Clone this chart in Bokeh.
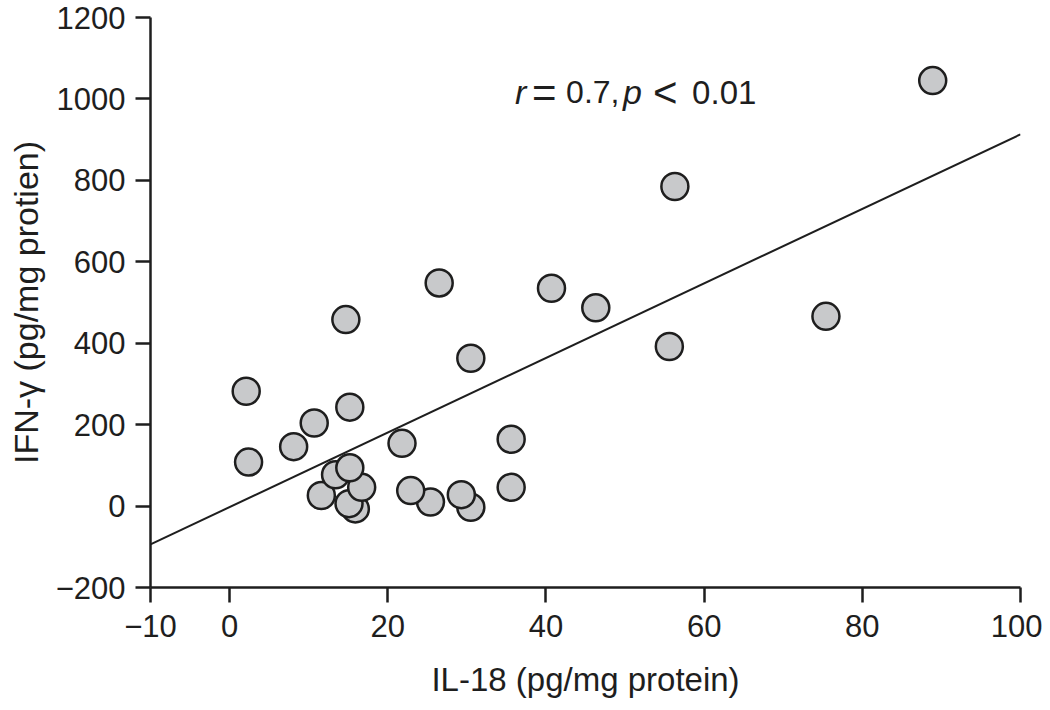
from bokeh.plotting import figure
from bokeh.models import Range1d, FixedTicker, Label
from bokeh.embed import file_html
from bokeh.resources import INLINE

# ---- data ----
il18 = [2.1, 2.4, 8.1, 10.7, 14.7, 15.2, 11.6, 13.4, 15.9, 15.1, 16.7, 15.2,
        21.8, 25.4, 22.9, 30.5, 29.3, 26.5, 30.5, 35.6, 35.6, 40.7, 46.3,
        55.6, 56.3, 75.4, 88.9]
ifng = [282, 108, 146, 204, 458, 243, 26, 77, -7, 6, 46, 94,
        154, 10, 38, -3, 28, 548, 363, 164, 46, 535, 487,
        392, 785, 466, 1045]

fit_x = [-10, 100]
fit_y = [-94, 913]

x_ticks = [-10, 0, 20, 40, 60, 80, 100]
x_tick_labels = ["\u221210", "0", "20", "40", "60", "80", "100"]
y_ticks = [-200, 0, 200, 400, 600, 800, 1000, 1200]
y_tick_labels = ["\u2212200", "0", "200", "400", "600", "800", "1000", "1200"]

x_label = "IL-18 (pg/mg protein)"
y_label = "IFN-\u03b3 (pg/mg protien)"

stat_pieces = ["r", "=", "0.7,", "p", "<", "0.01"]
stat_italic = [True, False, False, True, False, False]
stat_sizes = ["34px", "42px", "32px", "34px", "42px", "33px"]
stat_offsets = [0, 17, 51, 108, 138, 177]
stat_anchor_x = 36.1
stat_anchor_y = 1017

FONT = "Liberation Sans"
INK = "#1e1e1e"
FILL = "#c8c9cb"

p = figure(width=1042, height=702,
           x_range=Range1d(-10, 100), y_range=Range1d(-200, 1200),
           output_backend="svg", toolbar_location=None,
           min_border_left=150, min_border_right=22,
           min_border_top=17, min_border_bottom=115)
p.grid.visible = False
p.outline_line_color = None
p.background_fill_color = "white"
p.border_fill_color = "white"

p.line(fit_x, fit_y, line_color=INK, line_width=2)
p.scatter(il18, ifng, size=27, fill_color=FILL, line_color=INK, line_width=2.5)

for ax, ticks, labels in ((p.xaxis[0], x_ticks, x_tick_labels),
                          (p.yaxis[0], y_ticks, y_tick_labels)):
    ax.ticker = FixedTicker(ticks=ticks)
    ax.major_label_overrides = {t: l for t, l in zip(ticks, labels)}
    ax.axis_line_color = INK
    ax.axis_line_width = 2.5
    ax.major_tick_line_color = INK
    ax.major_tick_line_width = 2.5
    ax.major_tick_in = 0
    ax.major_tick_out = 15
    ax.minor_tick_line_color = None
    ax.major_label_text_font = FONT
    ax.major_label_text_font_size = "31px"
    ax.major_label_text_color = INK
    ax.axis_label_text_font = FONT
    ax.axis_label_text_font_size = "34px"
    ax.axis_label_text_font_style = "normal"
    ax.axis_label_text_color = INK

p.xaxis[0].axis_label = x_label
p.yaxis[0].axis_label = y_label
p.xaxis[0].axis_label_text_font_size = "33px"
p.xaxis[0].major_label_standoff = 12
p.xaxis[0].axis_label_standoff = 21
p.yaxis[0].major_label_standoff = 10
p.yaxis[0].axis_label_standoff = 8

for txt, ital, size, off in zip(stat_pieces, stat_italic, stat_sizes, stat_offsets):
    p.add_layout(Label(x=stat_anchor_x, y=stat_anchor_y, x_offset=off, text=txt,
                       text_font=FONT, text_font_size=size,
                       text_font_style="italic" if ital else "normal",
                       text_color=INK, text_baseline="alphabetic",
                       text_align="left"))

open("out.html", "w").write(file_html(p, INLINE))
